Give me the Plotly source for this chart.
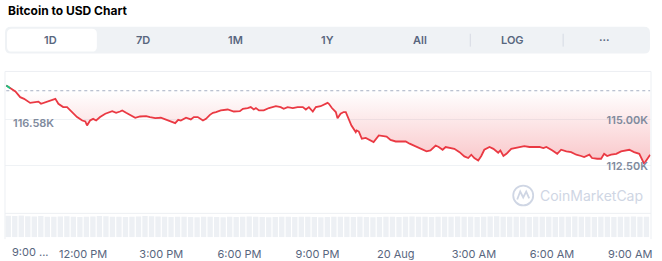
import datetime as dt
import plotly.graph_objects as go

# ---------------- data ----------------
BASE = dt.datetime(2025, 8, 19, 9, 0)
minutes = [3, 12, 24, 35, 44, 58, 70, 77, 83, 93, 104, 116, 123, 134, 143, 155, 166, 178, 185, 189,
           196, 203, 210, 219, 231, 247, 256, 265, 270, 279, 290, 300, 311, 325, 334, 346, 359, 371,
           382, 392, 399, 405, 417, 428, 435, 444, 456, 463, 472, 479, 486, 497, 513, 527, 541, 548,
           559, 566, 573, 578, 585, 596, 608, 624, 635, 642, 651, 663, 674, 686, 693, 700, 709, 716,
           727, 736, 743, 746, 753, 762, 766, 773, 780, 785, 792, 798, 808, 810, 815, 822, 831, 842,
           849, 861, 872, 879, 888, 900, 911, 923, 932, 941, 948, 960, 971, 980, 992, 999, 1008, 1015,
           1024, 1035, 1047, 1058, 1067, 1074, 1081, 1090, 1097, 1104, 1116, 1125, 1136, 1141, 1148,
           1155, 1166, 1178, 1189, 1196, 1208, 1219, 1231, 1240, 1247, 1261, 1272, 1281, 1293, 1304,
           1316, 1327, 1334, 1346, 1352, 1364, 1373, 1380, 1387, 1396, 1408, 1419, 1431, 1438, 1449,
           1461, 1472, 1479, 1486]
price_k = [116.86, 116.72, 116.54, 116.23, 116.14, 115.92, 115.96, 115.99, 115.87, 115.96, 116.05,
           116.14, 115.87, 115.69, 115.69, 115.42, 115.15, 114.96, 114.91, 114.69, 114.96, 115.05,
           114.96, 115.15, 115.33, 115.47, 115.38, 115.45, 115.51, 115.38, 115.23, 115.11, 115.18,
           115.20, 115.15, 115.09, 115.11, 115.00, 114.88, 114.82, 115.00, 114.96, 115.11, 115.02,
           115.15, 115.15, 114.96, 115.05, 115.27, 115.38, 115.42, 115.51, 115.56, 115.45, 115.47,
           115.60, 115.64, 115.69, 115.56, 115.64, 115.51, 115.51, 115.64, 115.74, 115.69, 115.60,
           115.69, 115.64, 115.69, 115.69, 115.56, 115.69, 115.45, 115.69, 115.74, 115.82, 115.92,
           115.87, 115.64, 115.42, 115.09, 115.33, 115.42, 115.42, 115.05, 114.69, 114.33, 114.42,
           114.36, 113.97, 114.01, 113.88, 113.79, 114.15, 114.11, 114.09, 113.91, 113.82, 113.82,
           113.82, 113.70, 113.60, 113.52, 113.39, 113.28, 113.33, 113.60, 113.52, 113.37, 113.52,
           113.46, 113.42, 113.24, 113.01, 112.92, 113.10, 112.92, 112.79, 113.03, 113.37, 113.52,
           113.42, 113.21, 113.33, 113.03, 113.15, 113.42, 113.48, 113.52, 113.57, 113.52, 113.52,
           113.53, 113.46, 113.52, 113.33, 113.15, 113.37, 113.28, 113.24, 113.10, 113.03, 112.97,
           113.10, 112.92, 112.88, 112.88, 113.15, 113.03, 113.10, 113.15, 113.28, 113.33, 113.37,
           113.24, 113.15, 112.61, 112.88, 113.10]
ref_price_k = 116.58
volume = [0.98, 0.97, 0.99, 0.96, 0.95, 0.97, 0.94, 0.93, 0.95, 0.96, 0.94, 0.92, 0.93, 0.95, 0.97,
          0.96, 0.94, 0.93, 0.92, 0.94, 0.95, 0.97, 0.96, 0.95, 0.93, 0.92, 0.94, 0.93, 0.92, 0.91,
          0.93, 0.94, 0.92, 0.91, 0.93, 0.92, 0.94, 0.95, 0.93, 0.92, 0.91, 0.92, 0.94, 0.93, 0.92,
          0.93, 0.94, 0.92, 0.91, 0.92, 0.93, 0.94, 0.93, 0.92, 0.93, 0.92, 0.91, 0.92, 0.94, 0.93,
          0.92, 0.93, 0.95, 0.94, 0.93, 0.92, 0.93, 0.94, 0.93, 0.95, 0.94, 0.93, 0.92, 0.94, 0.95,
          0.96, 0.94, 0.93, 0.94, 0.93, 0.92, 0.93, 0.94, 0.93, 0.92, 0.94, 0.93, 0.95, 0.94, 0.93,
          0.92, 0.94, 0.93, 0.92, 0.93, 0.94, 0.95, 0.94, 0.93]
vol_step_min = 15
x_tick_hours = [0, 3, 6, 9, 12, 15, 18, 21, 24]
x_tick_text = ["", "12:00 PM", "3:00 PM", "6:00 PM", "9:00 PM", "20 Aug", "3:00 AM", "6:00 AM", "9:00 AM"]
first_tick_text = "9:00 ..."
y_tick_vals_k = [112.5, 115.0]
y_tick_text = ["112.50K", "115.00K"]
tabs = ["1D", "7D", "1M", "1Y", "All", "LOG", "···"]
title = "Bitcoin to USD Chart"

# ---------------- helpers ----------------
W, H = 662, 261
def X(px): return px / W
def Y(py): return 1 - py / H

def rrect(x0, y0, x1, y1, r):
    return (f"M {X(x0+r)},{Y(y0)} L {X(x1-r)},{Y(y0)} Q {X(x1)},{Y(y0)} {X(x1)},{Y(y0+r)} "
            f"L {X(x1)},{Y(y1-r)} Q {X(x1)},{Y(y1)} {X(x1-r)},{Y(y1)} "
            f"L {X(x0+r)},{Y(y1)} Q {X(x0)},{Y(y1)} {X(x0)},{Y(y1-r)} "
            f"L {X(x0)},{Y(y0+r)} Q {X(x0)},{Y(y0)} {X(x0+r)},{Y(y0)} Z")

times = [BASE + dt.timedelta(minutes=m) for m in minutes]
price = [p * 1000 for p in price_k]
ref = ref_price_k * 1000
vol_times = [BASE + dt.timedelta(minutes=vol_step_min * i + vol_step_min / 2) for i in range(len(volume))]
green = [p if p >= ref else None for p in price]

RED = "#ea3943"
GREEN = "#16c784"
GRAY_TXT = "#58667e"
LINE = "#eff2f5"
FONT = "Inter"

fig = go.Figure()
fig.add_trace(go.Scatter(x=[times[0], times[-1]], y=[ref, ref], mode="lines",
                         line=dict(color="#a6b0c3", width=1, dash="dot"),
                         hoverinfo="skip", showlegend=False, xaxis="x", yaxis="y"))
fig.add_trace(go.Scatter(x=times, y=price, mode="lines", line=dict(color=RED, width=1.8),
                         fill="tonexty",
                         fillgradient=dict(type="vertical",
                                           colorscale=[[0, "rgba(234,57,67,0.30)"],
                                                       [1, "rgba(234,57,67,0.0)"]],
                                           start=112500, stop=ref),
                         hoverinfo="skip", showlegend=False, xaxis="x", yaxis="y"))
fig.add_trace(go.Scatter(x=times, y=green, mode="lines", line=dict(color=GREEN, width=1.8),
                         hoverinfo="skip", showlegend=False, xaxis="x", yaxis="y"))
fig.add_trace(go.Bar(x=vol_times, y=volume, marker=dict(color="#edf0f4", line=dict(width=0)),
                     hoverinfo="skip", showlegend=False, xaxis="x2", yaxis="y2"))

xr = [BASE, BASE + dt.timedelta(minutes=1488)]
tickvals = [BASE + dt.timedelta(hours=h) for h in x_tick_hours]
dom_x = [X(5), X(652)]

fig.update_layout(
    width=W, height=H, autosize=False,
    margin=dict(l=0, r=0, t=0, b=0),
    paper_bgcolor="white", plot_bgcolor="rgba(0,0,0,0)",
    font=dict(family=FONT, size=11, color=GRAY_TXT),
    bargap=0.18,
    xaxis=dict(domain=dom_x, range=xr, type="date", showgrid=False, showticklabels=False,
               zeroline=False, showline=False, fixedrange=True),
    yaxis=dict(domain=[Y(215), Y(72)], range=[109910, 117630], side="right",
               tickvals=[v * 1000 for v in y_tick_vals_k], ticktext=y_tick_text,
               ticklabelposition="inside", showgrid=True, gridcolor=LINE, gridwidth=1,
               zeroline=False, showline=False, ticks="",
               tickfont=dict(family=FONT, size=11, color="#808a9d", weight=600)),
    xaxis2=dict(domain=dom_x, range=xr, type="date", anchor="y2", showgrid=False,
                tickvals=tickvals, ticktext=x_tick_text, ticks="", ticklabelstandoff=9,
                tickfont=dict(family=FONT, size=11, color=GRAY_TXT),
                zeroline=False, showline=False),
    yaxis2=dict(domain=[Y(239), Y(217)], range=[0, 1.0], showgrid=False, showticklabels=False,
                zeroline=False, showline=False),
)

shapes = []
# tab bar
shapes.append(dict(type="path", path=rrect(5, 27, 651, 54, 6), xref="paper", yref="paper",
                   fillcolor="#eff2f5", line=dict(width=0), layer="below"))
shapes.append(dict(type="path", path=rrect(7, 29, 97, 52, 5), xref="paper", yref="paper",
                   fillcolor="white", line=dict(width=0), layer="below"))
for sx in (471, 564):
    shapes.append(dict(type="line", x0=X(sx), x1=X(sx), y0=Y(34), y1=Y(47), xref="paper", yref="paper",
                       line=dict(color="#d6dbe3", width=1)))
# chart frame
frame = "#eceff3"
shapes.append(dict(type="line", x0=X(5), x1=X(652), y0=Y(72), y1=Y(72), xref="paper", yref="paper",
                   line=dict(color=frame, width=1)))
shapes.append(dict(type="line", x0=X(5), x1=X(652), y0=Y(215), y1=Y(215), xref="paper", yref="paper",
                   line=dict(color=frame, width=1)))
shapes.append(dict(type="line", x0=X(5), x1=X(5), y0=Y(72), y1=Y(241), xref="paper", yref="paper",
                   line=dict(color=frame, width=1)))
shapes.append(dict(type="line", x0=X(652), x1=X(652), y0=Y(72), y1=Y(241), xref="paper", yref="paper",
                   line=dict(color=frame, width=1)))
# watermark logo
wm = "#cfd6e4"
shapes.append(dict(type="circle", x0=X(514), x1=X(534), y0=Y(207), y1=Y(187), xref="paper", yref="paper",
                   line=dict(color=wm, width=1.8)))
shapes.append(dict(type="path",
                   path=f"M {X(518)},{Y(201)} L {X(521)},{Y(193)} L {X(524)},{Y(199)} L {X(527)},{Y(193)} L {X(530)},{Y(200)}",
                   xref="paper", yref="paper", line=dict(color=wm, width=1.8)))
fig.update_layout(shapes=shapes)

ann = []
ann.append(dict(text=f"<b>{title}</b>", x=X(6), y=Y(11), xref="paper", yref="paper", xanchor="left",
                yanchor="middle", showarrow=False, font=dict(family=FONT, size=12, color="#000000")))
for i, t in enumerate(tabs):
    cx = 51 + 92.4 * i
    ann.append(dict(text=t, x=X(cx), y=Y(40.5), xref="paper", yref="paper", xanchor="center",
                    yanchor="middle", showarrow=False,
                    font=dict(family=FONT, size=11, color=GRAY_TXT, weight=600)))
ann.append(dict(text=f"{ref_price_k:.2f}K", x=X(11), y=Y(123.5), xref="paper", yref="paper",
                xanchor="left", yanchor="middle", showarrow=False,
                font=dict(family=FONT, size=11, color="#808a9d", weight=600)))
ann.append(dict(text="CoinMarketCap", x=X(539), y=Y(197.5), xref="paper", yref="paper",
                xanchor="left", yanchor="middle", showarrow=False,
                font=dict(family=FONT, size=14, color=wm)))
ann.append(dict(text=first_tick_text, x=BASE, xref="x2", y=Y(254), yref="paper", xanchor="left",
                yanchor="middle", xshift=5, showarrow=False,
                font=dict(family=FONT, size=11, color=GRAY_TXT)))
fig.update_layout(annotations=ann)

fig.write_html("out.html", config=dict(displayModeBar=False, staticPlot=True))
